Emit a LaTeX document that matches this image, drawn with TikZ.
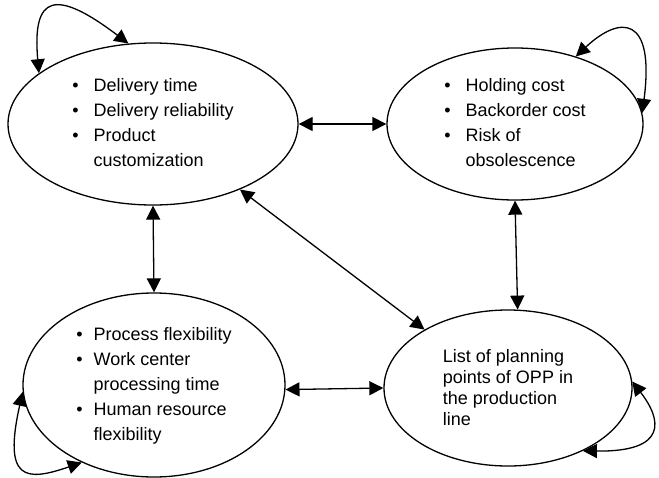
\documentclass[tikz,border=0pt]{standalone}
\usepackage{fontspec}
\setmainfont{Liberation Sans}
\usetikzlibrary{shapes.geometric,arrows.meta}

\begin{document}
\begin{tikzpicture}[x=1pt,y=-1pt,
    factor/.style={draw,ellipse,line width=1.3pt,inner sep=0pt,
        font=\fontsize{18}{25}\selectfont},
    link/.style={line width=1.3pt,
        {Triangle[length=14pt,width=14pt]}-{Triangle[length=14pt,width=14pt]}}]
    \useasboundingbox (0,0) rectangle (659,477);

    \node[factor,minimum width=290pt,minimum height=162pt] (service) at (153,124)
        {\begin{tabular}{@{}l@{\hspace{15pt}}l@{}}
         \textbullet & Delivery time\\
         \textbullet & Delivery reliability\\
         \textbullet & Product\\
                     & customization
         \end{tabular}\hspace{10pt}};
    \node[factor,minimum width=256pt,minimum height=152pt] (cost) at (515,124)
        {\begin{tabular}{@{}l@{\hspace{15pt}}l@{}}
         \textbullet & Holding cost\\
         \textbullet & Backorder cost\\
         \textbullet & Risk of\\
                     & obsolescence
         \end{tabular}};
    \node[factor,minimum width=262pt,minimum height=184pt] (process) at (154,385)
        {\begin{tabular}{@{}l@{\hspace{11pt}}l@{}}
         \textbullet & Process flexibility\\
         \textbullet & Work center\\
                     & processing time\\
         \textbullet & Human resource\\
                     & flexibility
         \end{tabular}};
    \node[factor,minimum width=248pt,minimum height=156pt,align=left,
        font=\fontsize{18}{21}\selectfont] (opp) at (508,388)
        {List of planning\\points of OPP in\\the production\\line};

    % links between the factors
    \draw[link] (service.east) -- (cost.west);
    \draw[link] (process.-2) -- (opp.west);
    \draw[link] (service.south) -- (process.north);
    \draw[link] (cost.south) -- (opp.83);
    \draw[link] (service.-37) -- (opp.145);

    % self loops
    \draw[link] (service.156) .. controls (32,-5) and (55,-12) .. (service.107);
    \draw[link] (cost.48) .. controls (620,15) and (655,15) .. (cost.5);
    \draw[link] (process.227) .. controls (25,482) and (3,480) .. (process.183);
    \draw[link] (opp.-40) .. controls (668,452) and (662,420) .. (opp.3);
\end{tikzpicture}
\end{document}
